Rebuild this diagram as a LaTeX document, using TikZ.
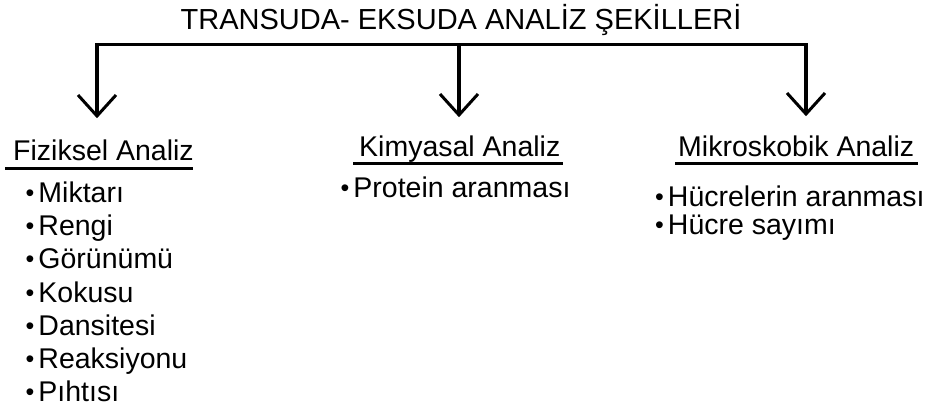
\documentclass[tikz,border=0pt]{standalone}
\usepackage{fontspec}
\setmainfont{Liberation Sans}
\newcommand{\bul}{\raisebox{0.5pt}{\fontsize{25}{25}\selectfont •}\hspace{4pt}}
\begin{document}
\begin{tikzpicture}[x=1pt,y=-1pt,
  txt/.style={inner sep=0pt, anchor=base west, font=\fontsize{28.5}{28.5}\selectfont},
  ttl/.style={inner sep=0pt, anchor=base, font=\fontsize{29}{29}\selectfont},
  bus/.style={line width=3.5pt},
  stem/.style={line width=3.5pt},
  barb/.style={line width=3pt},
  uline/.style={line width=3pt}]
\fill[white] (0,0) rectangle (934,410);
\useasboundingbox (0,0) rectangle (934,410);
% title
\node[ttl] (title) at (461,29) {TRANSUDA- EKSUDA ANALİZ ŞEKİLLERİ};
% bus and arrows
\coordinate (j1) at (97,44.5);
\coordinate (j2) at (459,44.5);
\coordinate (j3) at (806,44.5);
\coordinate (e1) at (97,116);
\coordinate (e2) at (459,115);
\coordinate (e3) at (806,114);
\draw[bus] (95.25,44.5) -- (807.75,44.5);
\foreach \i in {1,2,3}{
  \draw[stem] (j\i) -- (e\i);
  \draw[barb] (e\i) ++(-19,-21) -- (e\i) -- ++(19,-21);
}
% headings
\node[txt] (h1) at (13,160) {Fiziksel Analiz};
\node[txt] (h2) at (359,156) {Kimyasal Analiz};
\node[txt] (h3) at (678,156) {Mikroskobik Analiz};
\draw[uline] (5,168.5) -- (193,168.5);
\draw[uline] (353,163) -- (563,163);
\draw[uline] (675,163) -- (918,163);
% items
\node[txt] (f1) at (25.5,202) {\bul Miktarı};
\node[txt] (f2) at (25.5,235) {\bul Rengi};
\node[txt] (f3) at (25.5,268) {\bul Görünümü};
\node[txt] (f4) at (25.5,302) {\bul Kokusu};
\node[txt] (f5) at (25.5,335) {\bul Dansitesi};
\node[txt] (f6) at (25.5,368) {\bul Reaksiyonu};
\node[txt] (f7) at (25.5,401) {\bul Pıhtısı};
\node[txt] (k1) at (340.5,197) {\bul Protein aranması};
\node[txt] (m1) at (655,206) {\bul Hücrelerin aranması};
\node[txt] (m2) at (655,234) {\bul Hücre sayımı};
\end{tikzpicture}
\end{document}
